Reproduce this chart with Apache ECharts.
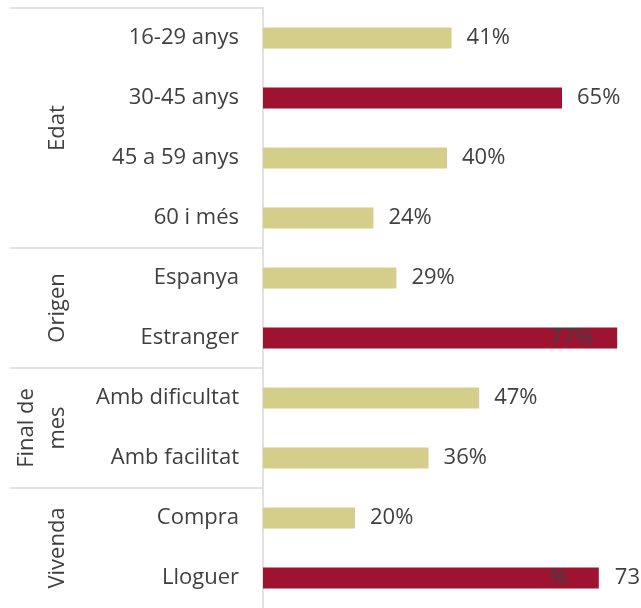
<!DOCTYPE html>
<html>
<head>
<meta charset="utf-8">
<script src="https://cdn.jsdelivr.net/npm/echarts@6/dist/echarts.min.js"></script>
<style>
  html, body { margin: 0; padding: 0; background: #fff; }
  #chart { width: 641px; height: 608px; }
</style>
</head>
<body>
<div id="chart"></div>
<script>
// categories, top to bottom
const categories = ["16-29 anys", "30-45 anys", "45 a 59 anys", "60 i més", "Espanya", "Estranger",
  "Amb dificultat", "Amb facilitat", "Compra", "Lloguer"];
const values = [41, 65, 40, 24, 29, 77, 47, 36, 20, 73];
const highlighted = [false, true, false, false, false, true, false, false, false, true];
const groupNames = ["Edat", "Origen", "Final de\nmes", "Vivenda"];
const groupSizes = [4, 2, 2, 2];

const FONT = "'Open Sans', sans-serif";
const SIZE = 22;
const TEXT = "#404040";
const LINE = "#d9d9d9";
const BEIGE = "#d5ce8a";
const RED = "#9e1330";

const myChart = echarts.init(document.getElementById("chart"));

const barData = values.map((v, i) => {
  const item = { value: v, itemStyle: { color: highlighted[i] ? RED : BEIGE } };
  // quirks of the original labels
  if (categories[i] === "Estranger") {
    item.label = { position: "insideRight", distance: 24 };
  }
  if (categories[i] === "Lloguer") {
    item.label = {
      position: "right",
      distance: -49,
      formatter: "{p|%}{n|" + v + "}",
      rich: {
        p: { width: 65, fontSize: SIZE, fontFamily: FONT, color: TEXT },
        n: { fontSize: SIZE, fontFamily: FONT, color: TEXT }
      }
    };
  }
  return item;
});

const option = {
  animation: false,
  grid: { left: 263, top: 8, width: 368, height: 602 },
  xAxis: {
    type: "value",
    min: 0,
    max: 80,
    show: false
  },
  yAxis: {
    type: "category",
    inverse: true,
    data: categories,
    axisLine: { show: true, lineStyle: { color: LINE, width: 1.5 } },
    axisTick: { show: false },
    axisLabel: { margin: 24, fontSize: SIZE, fontFamily: FONT, color: TEXT }
  },
  series: [
    {
      type: "bar",
      barWidth: 21,
      data: barData,
      label: {
        show: true,
        position: "right",
        distance: 15,
        formatter: "{c}%",
        fontSize: SIZE,
        fontFamily: FONT,
        color: TEXT
      }
    }
  ]
};
myChart.setOption(option);

// group labels and separators on the left, placed from the category axis
const band = myChart.convertToPixel({ yAxisIndex: 0 }, categories[1]) -
  myChart.convertToPixel({ yAxisIndex: 0 }, categories[0]);
const axisX = myChart.convertToPixel({ xAxisIndex: 0 }, 0);
const graphics = [];
let start = 0;
const topY = myChart.convertToPixel({ yAxisIndex: 0 }, categories[0]) - band / 2;
graphics.push({ type: "line", shape: { x1: 10, y1: topY, x2: axisX, y2: topY }, style: { stroke: LINE, lineWidth: 1.5 } });
groupNames.forEach((name, g) => {
  const first = myChart.convertToPixel({ yAxisIndex: 0 }, categories[start]);
  const last = myChart.convertToPixel({ yAxisIndex: 0 }, categories[start + groupSizes[g] - 1]);
  const twoLines = name.indexOf("\n") >= 0;
  graphics.push({
    type: "text",
    x: twoLines ? 42 : 58,
    y: (first + last) / 2,
    rotation: Math.PI / 2,
    style: {
      text: name,
      fill: TEXT,
      font: SIZE + "px " + FONT,
      lineHeight: 31,
      align: "center",
      verticalAlign: "middle"
    }
  });
  if (g < groupNames.length - 1) {
    const y = last + band / 2;
    graphics.push({ type: "line", shape: { x1: 10, y1: y, x2: axisX, y2: y }, style: { stroke: LINE, lineWidth: 1.5 } });
  }
  start += groupSizes[g];
});
myChart.setOption({ graphic: graphics });

window.addEventListener("resize", function () {
  myChart.resize();
});
</script>
</body>
</html>
